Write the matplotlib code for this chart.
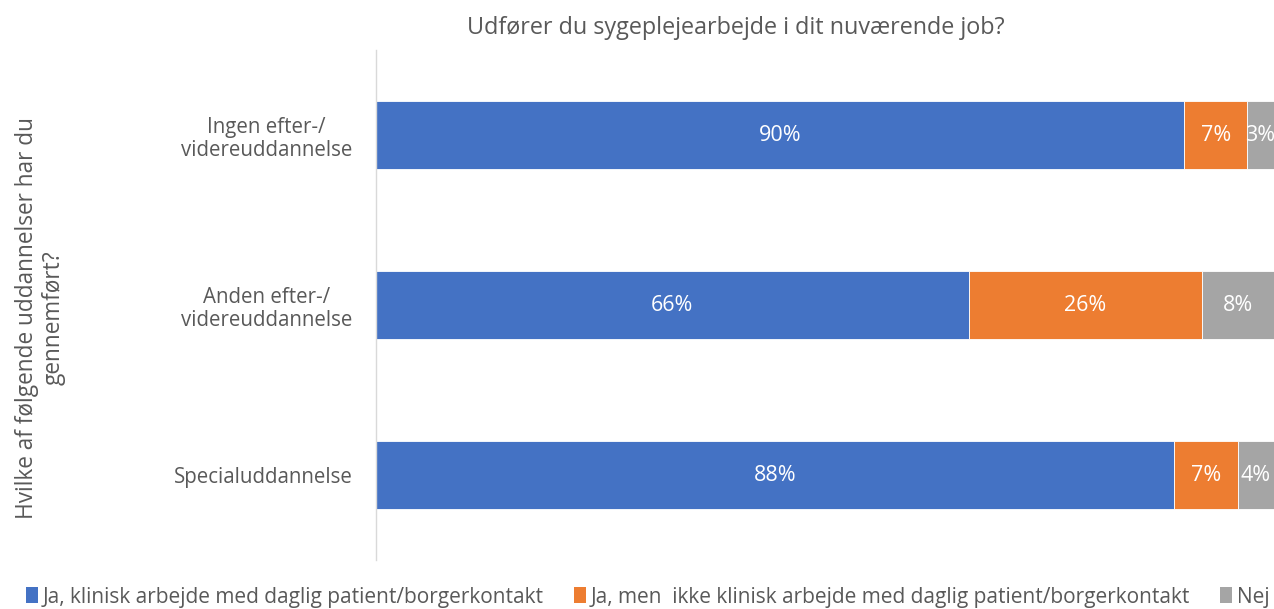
import matplotlib
matplotlib.use("Agg")
import matplotlib.pyplot as plt
import numpy as np
from matplotlib.patches import Patch

categories = ["Ingen efter-/\nvidereuddannelse", "Anden efter-/\nvidereuddannelse", "Specialuddannelse"]
series_names = ["Ja, klinisk arbejde med daglig patient/borgerkontakt",
                "Ja, men  ikke klinisk arbejde med daglig patient/borgerkontakt",
                "Nej"]
ja_klinisk = [90, 66, 88]
ja_ikke_klinisk = [7, 26, 7]
nej = [3, 8, 4]
colors = ["#4472C4", "#ED7D31", "#A5A5A5"]
title = "Udfører du sygeplejearbejde i dit nuværende job?"
ylabel = "Hvilke af følgende uddannelser har du\ngennemført?"

plt.rcParams['font.family'] = ['Open Sans', 'DejaVu Sans']
txt = "#595959"

W, H = 1274, 609
fig = plt.figure(figsize=(W/100, H/100), dpi=100)
ax = fig.add_axes([376/W, 1-560/H, 1-376/W, (560-50)/H])

data = np.array([ja_klinisk, ja_ikke_klinisk, nej], dtype=float)
totals = data.sum(axis=0)
frac = data / totals
y = np.arange(len(categories))
left = np.zeros(len(categories))
for i in range(3):
    bars = ax.barh(y, frac[i], left=left, height=0.4, color=colors[i],
                   edgecolor="white", linewidth=0.6)
    for j, b in enumerate(bars):
        ax.text(left[j] + frac[i][j]/2, y[j], f"{int(data[i][j])}%",
                ha="center", va="center", color="white", fontsize=15.5)
    left += frac[i]

ax.set_xlim(0, 1)
ax.set_ylim(2.5, -0.5)
ax.set_yticks(y)
ax.set_yticklabels(categories, fontsize=14.8, color=txt, linespacing=1.15)
for lab in ax.get_yticklabels():
    lab.set_multialignment("center")
ax.tick_params(axis="y", length=0, pad=17)
ax.set_xticks([])
for s in ["top", "right", "bottom"]:
    ax.spines[s].set_visible(False)
ax.spines["left"].set_color("#D9D9D9")
ax.spines["left"].set_linewidth(1.0)

fig.text(736/W, 1-28/H, title, ha="center", va="center", fontsize=16.8, color=txt)
fig.text(40/W, 1-318/H, ylabel, ha="center", va="center", rotation=90,
         fontsize=16.3, color=txt, multialignment="center", linespacing=1.15)

handles = [Patch(facecolor=c, edgecolor="none") for c in colors]
fig.legend(handles, series_names, loc="center", bbox_to_anchor=(648/W, 1-597/H),
           ncol=3, frameon=False, fontsize=15, labelcolor=txt,
           handlelength=0.55, handleheight=0.8, handletextpad=0.25, columnspacing=1.45)

fig.savefig("out.png", dpi=100)
